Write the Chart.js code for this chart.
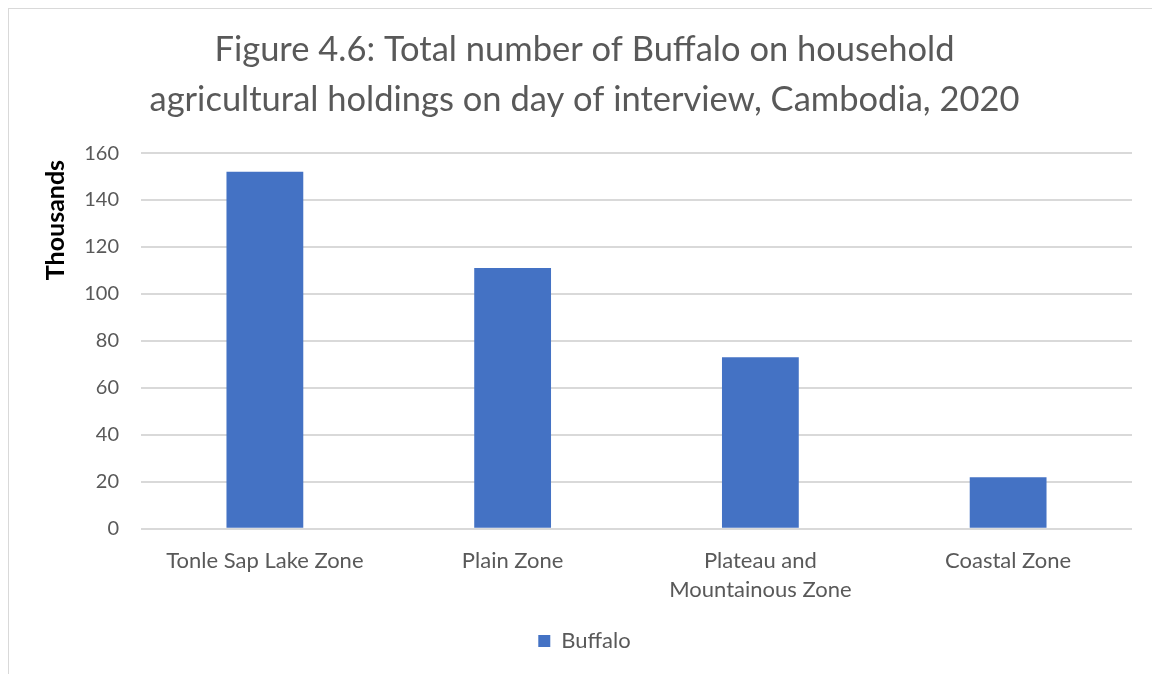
<!DOCTYPE html>
<html>
<head>
<meta charset="utf-8">
<script src="https://cdn.jsdelivr.net/npm/chart.js@4"></script>
<style>
  html, body { margin: 0; padding: 0; background: #fff; overflow: hidden; width: 1152px; height: 674px; }
  #frame { position: absolute; left: 8px; top: 8px; width: 1160px; height: 680px; border: 1px solid #d9d9d9; box-sizing: border-box; background: #fff; }
  #wrap { position: absolute; left: 0; top: 0; width: 1152px; height: 672px; }
</style>
</head>
<body>
<div id="frame"><div id="wrap"><canvas id="c"></canvas></div></div>
<script>
const categories = [["Tonle Sap Lake Zone"], ["Plain Zone"], ["Plateau and", "Mountainous Zone"], ["Coastal Zone"]];
const buffalo = [152, 111, 73, 22];
const seriesName = "Buffalo";
const titleLines = ["Figure 4.6: Total number of Buffalo on household", "agricultural holdings on day of interview, Cambodia, 2020"];
const yAxisTitle = "Thousands";

const FONT = "Lato, 'Liberation Sans', sans-serif";
const GRAY = "#595959";

const yTitlePlugin = {
  id: 'yTitle',
  afterDraw(chart) {
    const ctx = chart.ctx;
    const a = chart.chartArea;
    ctx.save();
    ctx.translate(a.left - 85, a.top + 67);
    ctx.rotate(-Math.PI / 2);
    ctx.font = "bold 25px " + FONT;
    ctx.fillStyle = '#000';
    ctx.textAlign = 'center';
    ctx.textBaseline = 'middle';
    ctx.fillText(yAxisTitle, 0, 0);
    ctx.restore();
  }
};

new Chart(document.getElementById('c'), {
  type: 'bar',
  data: {
    labels: categories,
    datasets: [{
      label: seriesName,
      data: buffalo,
      backgroundColor: '#4472c4',
      borderWidth: 0,
      categoryPercentage: 1.0,
      barPercentage: 0.31
    }]
  },
  plugins: [yTitlePlugin],
  options: {
    responsive: true,
    maintainAspectRatio: false,
    animation: false,
    devicePixelRatio: 1,
    layout: { padding: { left: 28, right: 29, top: 16, bottom: 19 } },
    plugins: {
      title: {
        display: true,
        text: titleLines,
        color: GRAY,
        font: { family: FONT, size: 34.5, weight: 'normal', lineHeight: 1.45 },
        padding: { top: 0, bottom: 28 }
      },
      legend: {
        display: true,
        position: 'bottom',
        labels: {
          color: GRAY,
          font: { family: FONT, size: 22 },
          boxWidth: 12,
          boxHeight: 12,
          padding: 8
        }
      },
      tooltip: { enabled: false }
    },
    scales: {
      x: {
        grid: { display: false, drawTicks: false },
        border: { display: false },
        ticks: {
          color: GRAY,
          font: { family: FONT, size: 22, lineHeight: 1.3 },
          padding: 18,
          maxRotation: 0,
          autoSkip: false
        }
      },
      y: {
        min: 0,
        max: 160,
        afterFit(scale) { scale.width = 104; },
        grid: { color: '#d9d9d9', lineWidth: 2, drawTicks: false },
        border: { display: false },
        ticks: {
          stepSize: 20,
          color: GRAY,
          font: { family: FONT, size: 20 },
          padding: 22
        }
      }
    }
  }
});
</script>
</body>
</html>
